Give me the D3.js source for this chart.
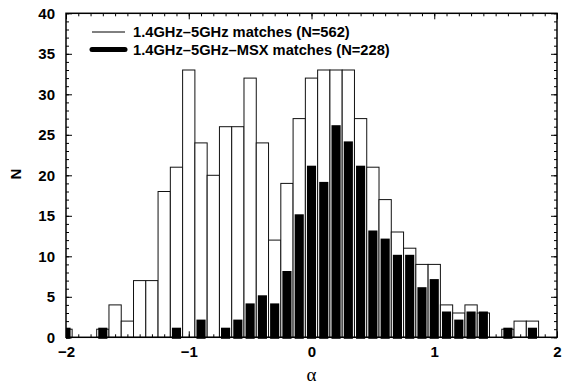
<!DOCTYPE html>
<html>
<head>
<meta charset="utf-8">
<script src="https://cdn.jsdelivr.net/npm/d3@7"></script>
<style>
    body { margin: 0; background: #fff; }
    .tick text { font-family: "Liberation Sans", Arial, sans-serif; font-weight: bold; font-size: 15px; fill: #000; }
    .tick line { stroke: #000; }
    .domain { display: none; }
</style>
</head>
<body>
<div id="chart"></div>
<script>
// spectral index bins (centre of each 0.1 wide bin)
const binCentres = d3.range(40).map(i => Math.round((-2 + i * 0.1) * 10) / 10);

// 1.4GHz-5GHz matches, counts per bin
const allCounts = [1, 0, 0, 1, 4, 2, 7, 7, 18, 21,
                   33, 24, 20, 26, 26, 32, 24, 12, 19, 27,
                   32, 33, 33, 33, 27, 21, 17, 13, 11, 9,
                   9, 4, 3, 4, 3, 0, 1, 2, 2, 0];

// 1.4GHz-5GHz-MSX matches, counts per bin
const msxCounts = [1, 0, 0, 1, 0, 0, 0, 0, 0, 1,
                   0, 2, 0, 1, 2, 4, 5, 4, 8, 15,
                   21, 19, 26, 24, 21, 13, 12, 10, 10, 6,
                   7, 3, 2, 3, 3, 0, 1, 0, 1, 0];

const xTicks = [-2, -1, 0, 1, 2];
const yTicks = [0, 5, 10, 15, 20, 25, 30, 35, 40];
const legendLabels = ["1.4GHz\u20135GHz matches (N=562)", "1.4GHz\u20135GHz\u2013MSX matches (N=228)"];

class HistVis {

    constructor(parentElement) {
        this.parentElement = parentElement;
        this.initVis();
    }

    initVis() {
        let vis = this;

        vis.margin = {top: 13.3, right: 13, bottom: 50.7, left: 66};
        vis.width = 570 - vis.margin.left - vis.margin.right;
        vis.height = 388 - vis.margin.top - vis.margin.bottom;

        vis.svg = d3.select("#" + vis.parentElement).append("svg")
            .attr("width", 570)
            .attr("height", 388);

        vis.g = vis.svg.append("g")
            .attr("transform", `translate(${vis.margin.left}, ${vis.margin.top})`);

        vis.x = d3.scaleLinear().domain([-2, 2]).range([0, vis.width]);
        vis.y = d3.scaleLinear().domain([0, 40]).range([vis.height, 0]);

        vis.g.append("clipPath").attr("id", "plot-clip")
            .append("rect")
            .attr("x", 0).attr("y", -3)
            .attr("width", vis.width).attr("height", vis.height + 5);

        vis.bars = vis.g.append("g").attr("clip-path", "url(#plot-clip)");

        vis.drawAxes();
        vis.updateVis();
        vis.drawLegend();
    }

    drawAxes() {
        let vis = this;
        let minorX = d3.range(-20, 21).map(d => d / 10);
        let minorY = d3.range(0, 41);

        // minor ticks on all four sides
        vis.g.append("g").attr("transform", `translate(0, ${vis.height})`)
            .call(d3.axisBottom(vis.x).tickValues(minorX).tickSize(-3).tickFormat(""));
        vis.g.append("g")
            .call(d3.axisTop(vis.x).tickValues(minorX).tickSize(-3).tickFormat(""));
        vis.g.append("g")
            .call(d3.axisLeft(vis.y).tickValues(minorY).tickSize(-3).tickFormat(""));
        vis.g.append("g").attr("transform", `translate(${vis.width}, 0)`)
            .call(d3.axisRight(vis.y).tickValues(minorY).tickSize(-3).tickFormat(""));

        // major ticks + labels
        vis.g.append("g").attr("transform", `translate(0, ${vis.height})`)
            .call(d3.axisBottom(vis.x).tickValues(xTicks).tickSize(-6).tickPadding(9).tickFormat(d3.format("d")));
        vis.g.append("g")
            .call(d3.axisTop(vis.x).tickValues(xTicks).tickSize(-6).tickFormat(""));
        vis.g.append("g")
            .call(d3.axisLeft(vis.y).tickValues(yTicks).tickSize(-6).tickPadding(11));
        vis.g.append("g").attr("transform", `translate(${vis.width}, 0)`)
            .call(d3.axisRight(vis.y).tickValues(yTicks).tickSize(-6).tickFormat(""));

        vis.g.append("rect")
            .attr("width", vis.width).attr("height", vis.height)
            .attr("fill", "none").attr("stroke", "#000").attr("stroke-width", 1.5);

        // axis titles
        vis.svg.append("text")
            .attr("transform", "translate(21, 174) rotate(-90)")
            .attr("text-anchor", "middle")
            .style("font-family", "Liberation Sans, Arial, sans-serif")
            .style("font-weight", "bold").style("font-size", "15px")
            .text("N");

        vis.svg.append("text")
            .attr("x", vis.margin.left + vis.x(0)).attr("y", 381)
            .attr("text-anchor", "middle")
            .style("font-family", "Liberation Serif, Times New Roman, serif")
            .style("font-size", "19px")
            .text("\u03b1");
    }

    updateVis() {
        let vis = this;
        let binW = vis.x(0.1) - vis.x(0);

        // open histogram (all matches)
        vis.bars.selectAll(".all-bar")
            .data(binCentres.map((c, i) => ({c: c, n: allCounts[i]})).filter(d => d.n > 0))
            .enter().append("rect")
            .attr("class", "all-bar")
            .attr("x", d => vis.x(d.c - 0.05))
            .attr("width", binW)
            .attr("y", d => vis.y(d.n))
            .attr("height", d => vis.y(0) - vis.y(d.n))
            .attr("fill", "#fff")
            .attr("stroke", "#111")
            .attr("stroke-width", 1);

        // filled histogram (MSX matches)
        vis.bars.selectAll(".msx-bar")
            .data(binCentres.map((c, i) => ({c: c, n: msxCounts[i]})).filter(d => d.n > 0))
            .enter().append("rect")
            .attr("class", "msx-bar")
            .attr("x", d => vis.x(d.c - 0.025))
            .attr("width", vis.x(0.05) - vis.x(0))
            .attr("y", d => vis.y(d.n))
            .attr("height", d => vis.y(0) - vis.y(d.n))
            .attr("fill", "#000")
            .attr("stroke", "#000")
            .attr("stroke-width", 3);
    }

    drawLegend() {
        let vis = this;
        let legend = vis.svg.append("g").attr("class", "legend");

        legend.selectAll("line")
            .data(legendLabels)
            .enter().append("line")
            .attr("x1", 92).attr("x2", 125)
            .attr("y1", (d, i) => 32 + i * 17.5)
            .attr("y2", (d, i) => 32 + i * 17.5)
            .attr("stroke", "#000")
            .attr("stroke-width", (d, i) => i === 0 ? 1 : 5)
            .attr("stroke-linecap", (d, i) => i === 0 ? "butt" : "round");

        legend.selectAll("text")
            .data(legendLabels)
            .enter().append("text")
            .attr("x", 133)
            .attr("y", (d, i) => 37 + i * 17.5)
            .style("font-family", "Liberation Sans, Arial, sans-serif")
            .style("font-weight", "bold").style("font-size", "14.7px")
            .text(d => d);
    }
}

new HistVis("chart");
</script>
</body>
</html>
